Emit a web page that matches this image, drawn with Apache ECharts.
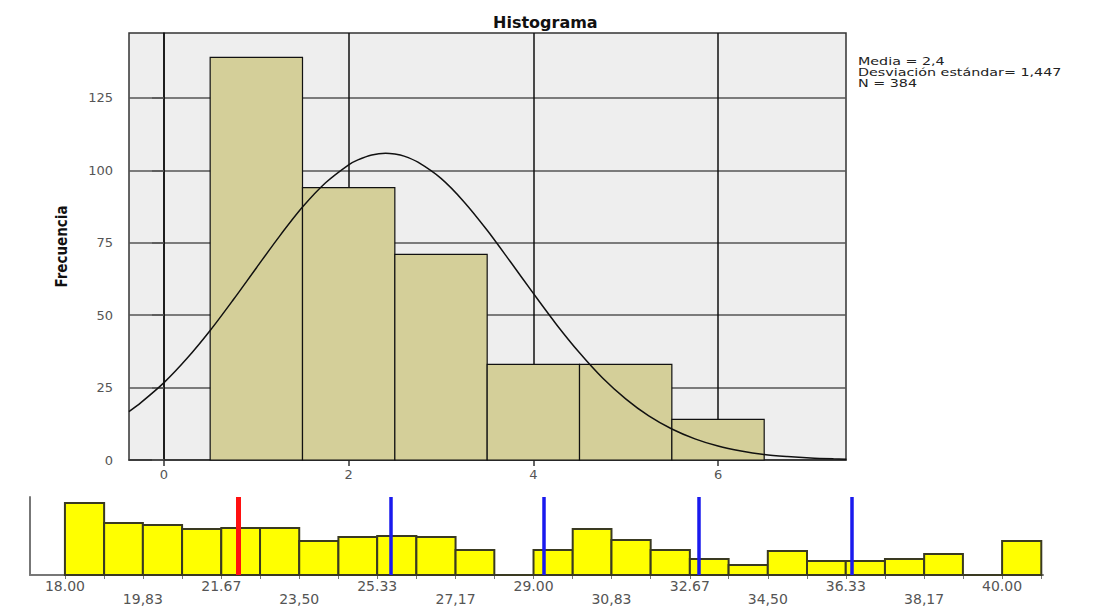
<!DOCTYPE html>
<html><head><meta charset="utf-8">
<script src="https://cdn.jsdelivr.net/npm/echarts@6/dist/echarts.min.js"></script>
<style>html,body{margin:0;padding:0;background:#fff}#c{width:1109px;height:610px}</style>
</head><body><div id="c"></div>
<script>
// ---- main histogram ----
const histEdges = [0.5, 1.5, 2.5, 3.5, 4.5, 5.5, 6.5];
const histFreq = [139, 94, 71, 33, 33, 14];
const xTickValues = [0, 2, 4, 6];
const yTickValues = [0, 25, 50, 75, 100, 125];
const curveX = [-0.38,-0.25,0,0.25,0.5,0.75,1,1.25,1.5,1.75,2,2.1,2.25,2.4,2.5,2.6,2.75,3,3.25,3.5,3.75,4,4.25,4.5,4.75,5,5.25,5.5,5.75,6,6.25,6.5,6.75,7,7.25,7.39];
const curveY = [16.7,19.8,26.7,35.1,44.7,55.3,66.3,77.2,87.3,95.7,101.9,103.6,105.3,105.9,105.6,104.9,102.8,97.2,89.1,79.3,68.5,57.5,46.8,37.0,28.3,21.1,15.2,10.7,7.3,4.8,3.1,1.9,1.2,0.7,0.4,0.3];
const statsLines = ['Media = 2,4', 'Desviación estándar= 1,447', 'N = 384'];
const titleText = 'Histograma';
const yName = 'Frecuencia';

// ---- lower strip ----
const stripEdges = [18.00,18.92,19.83,20.75,21.67,22.58,23.50,24.42,25.33,26.25,27.17,28.08,29.00,29.92,30.83,31.75,32.67,33.58,34.50,35.42,36.33,37.25,38.17,39.08,40.00,40.92];
const stripHeights = [72,52,50,46,47,47,34,38,39,38,25,0,25,46,35,25,16,10,24,14,14,16,21,0,34];
const stripTickValues = [18.00,19.83,21.67,23.50,25.33,27.17,29.00,30.83,32.67,34.50,36.33,38.17,40.00];
const stripTickLabels = ['18.00','19,83','21.67','23,50','25.33','27,17','29.00','30,83','32.67','34,50','36.33','38,17','40.00'];
const redMarks = [22.07];
const blueMarks = [25.66, 29.23, 32.88, 36.47];

const histData = histFreq.map((f, i) => [histEdges[i], histEdges[i + 1], f]);
const stripData = stripHeights.map((h, i) => [stripEdges[i], stripEdges[i + 1], h]);
const curveData = curveX.map((x, i) => [x, curveY[i]]);

function rectRenderer(fill, stroke, lw) {
  return function (params, api) {
    const p0 = api.coord([api.value(0), api.value(2)]);
    const p1 = api.coord([api.value(1), 0]);
    return {
      type: 'rect',
      shape: { x: p0[0], y: p0[1], width: p1[0] - p0[0], height: p1[1] - p0[1] },
      style: { fill: fill, stroke: stroke, lineWidth: lw }
    };
  };
}

const chart = echarts.init(document.getElementById('c'), null, { renderer: 'svg' });
chart.setOption({
  animation: false,
  backgroundColor: '#ffffff',
  title: {
    text: titleText, left: 488, top: 9,
    textStyle: { fontFamily: 'DejaVu Sans', fontWeight: 'bold', fontSize: 16, color: '#111' }
  },
  graphic: [{
    type: 'text', x: 858, y: 56, scaleX: 1.3,
    style: { text: statsLines.join('\n'), font: '11px "DejaVu Sans"', lineHeight: 10.8, fill: '#222' }
  }],
  grid: [
    { left: 129, right: 263, top: 33, bottom: 150, show: true, backgroundColor: '#eeeeee', borderColor: '#333', borderWidth: 1.5 },
    { left: 30, right: 66, top: 497, bottom: 35 }
  ],
  xAxis: [
    {
      type: 'value', gridIndex: 0, min: -0.379, max: 7.386,
      axisLine: { show: true, lineStyle: { color: '#333', width: 1.5 } },
      axisTick: { show: true, customValues: xTickValues, length: 6, lineStyle: { color: '#333', width: 1.5 } },
      axisLabel: { customValues: xTickValues, margin: 8, fontFamily: 'DejaVu Sans', fontSize: 13, color: '#555' },
      splitLine: { show: true, lineStyle: { color: '#111', width: 1.5 } }
    },
    {
      type: 'value', gridIndex: 1, min: 17.18, max: 40.96,
      axisLine: { show: true, lineStyle: { color: '#777', width: 2 } },
      axisTick: { show: true, customValues: stripEdges, length: 4, lineStyle: { color: '#777' } },
      axisLabel: {
        customValues: stripTickValues, margin: 4, fontFamily: 'DejaVu Sans', fontSize: 14, lineHeight: 13, color: '#555',
        formatter: function (v) {
          const i = stripTickValues.findIndex(t => Math.abs(t - v) < 0.005);
          if (i < 0) return '';
          return i % 2 ? '\n' + stripTickLabels[i] : stripTickLabels[i];
        }
      },
      splitLine: { show: false }
    }
  ],
  yAxis: [
    {
      type: 'value', gridIndex: 0, min: 0, max: 147.4, interval: 25,
      name: yName, nameLocation: 'middle', nameGap: 60,
      nameTextStyle: { fontFamily: 'DejaVu Sans Condensed', fontWeight: 'bold', fontSize: 15, color: '#111' },
      axisLine: { show: true, lineStyle: { color: '#111', width: 1.5 } },
      axisTick: { show: true, customValues: yTickValues, length: 12, lineStyle: { color: '#555', width: 1.5 } },
      axisLabel: { customValues: yTickValues, margin: 16, fontFamily: 'DejaVu Sans', fontSize: 13, color: '#555' },
      splitLine: { show: true, lineStyle: { color: '#555', width: 1.5 } }
    },
    {
      type: 'value', gridIndex: 1, min: 0, max: 78,
      axisLine: { show: true, lineStyle: { color: '#777', width: 2 } },
      axisTick: { show: false }, axisLabel: { show: false }, splitLine: { show: false }
    }
  ],
  series: [
    {
      type: 'custom', name: 'Frecuencia', xAxisIndex: 0, yAxisIndex: 0,
      renderItem: rectRenderer('#d4cf99', '#111', 1.2),
      encode: { x: [0, 1], y: 2 }, data: histData, z: 2
    },
    {
      type: 'line', name: 'Normal', xAxisIndex: 0, yAxisIndex: 0, data: curveData,
      smooth: 0.3, showSymbol: false, lineStyle: { color: '#111', width: 1.5 }, z: 3
    },
    {
      type: 'custom', name: 'strip', xAxisIndex: 1, yAxisIndex: 1,
      renderItem: rectRenderer('#ffff00', '#3a3a22', 2),
      encode: { x: [0, 1], y: 2 }, data: stripData, z: 2,
      markLine: {
        silent: true, symbol: 'none', label: { show: false },
        data: redMarks.map(v => ({ xAxis: v, lineStyle: { color: '#ff1010', width: 5, type: 'solid' } }))
          .concat(blueMarks.map(v => ({ xAxis: v, lineStyle: { color: '#1a1aee', width: 3.5, type: 'solid' } })))
      }
    }
  ]
});
</script>
</body></html>
